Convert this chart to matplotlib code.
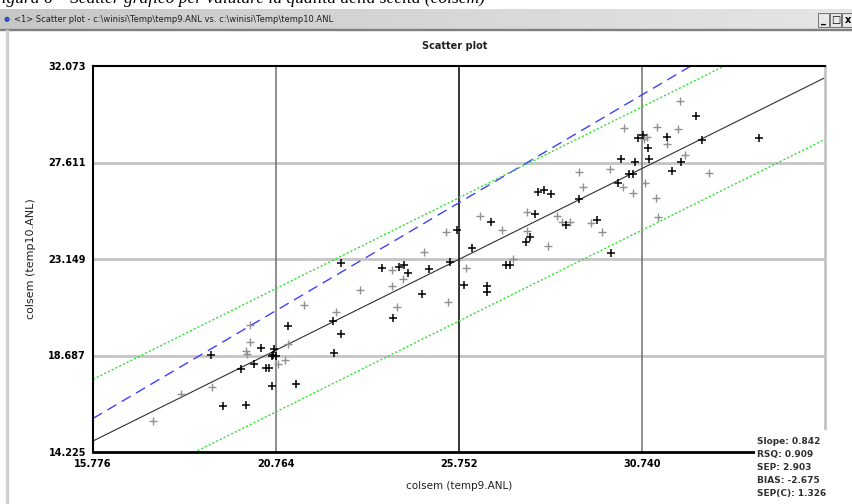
import numpy as np
import matplotlib
matplotlib.use('Agg')
import matplotlib.pyplot as plt
from matplotlib.patches import Rectangle

# samples drawn in black
x_black = [19.32, 19.95, 18.99, 20.36, 19.81, 20.16, 20.49, 20.57, 20.66, 20.71,
           20.68, 20.66, 20.76, 21.09, 21.31, 22.35, 22.54, 22.32, 22.54, 23.65,
           24.12, 24.25, 24.36, 23.95, 24.74, 24.93, 25.51, 25.70, 25.89, 26.11,
           26.52, 26.52, 27.03, 27.14, 26.62, 27.82, 27.69, 27.58, 27.91, 28.07,
           28.26, 28.67, 29.02, 29.51, 29.90, 30.09, 30.39, 30.50, 30.17, 30.55,
           30.93, 30.90, 30.77, 30.63, 31.42, 32.21, 32.38, 33.93, 31.80, 31.56]
y_black = [16.35, 16.40, 18.71, 19.03, 18.06, 18.29, 18.11, 18.11, 17.28, 18.99,
           18.71, 18.66, 18.66, 20.05, 17.37, 18.80, 19.68, 20.28, 22.96, 22.73,
           22.78, 22.87, 22.50, 20.42, 21.53, 22.69, 23.01, 24.49, 21.95, 23.66,
           21.90, 21.62, 22.87, 22.87, 24.86, 25.23, 24.17, 23.94, 26.25, 26.34,
           26.16, 24.72, 25.92, 24.95, 23.43, 26.66, 27.08, 27.08, 27.77, 27.63,
           27.77, 28.28, 28.88, 28.74, 28.79, 29.76, 28.65, 28.74, 27.63, 27.22]

# samples drawn in grey
x_grey = [17.41, 18.18, 19.02, 20.06, 20.06, 19.95, 19.97, 20.82, 21.01, 21.09,
          21.53, 22.40, 23.05, 23.93, 24.23, 23.93, 24.06, 24.80, 25.40, 25.45,
          25.94, 26.32, 27.22, 26.92, 27.61, 27.61, 28.18, 28.42, 28.56, 28.78,
          29.02, 29.13, 29.35, 29.65, 29.87, 30.22, 30.50, 30.82, 31.12, 31.18,
          30.88, 30.80, 30.25, 31.15, 31.72, 31.42, 31.78, 31.91, 32.57]
y_grey = [15.66, 16.91, 17.23, 20.10, 19.31, 18.90, 18.76, 18.29, 18.48, 19.22,
          21.02, 20.70, 21.72, 22.64, 22.22, 21.90, 20.93, 23.47, 24.40, 21.16,
          22.73, 25.14, 23.15, 24.49, 25.32, 24.44, 23.75, 25.14, 24.86, 24.86,
          27.17, 26.48, 24.81, 24.40, 27.31, 26.48, 26.20, 26.66, 25.97, 25.09,
          28.79, 28.70, 29.21, 29.25, 29.16, 28.47, 30.46, 27.96, 27.13]

x_ticks = [15.776, 20.764, 25.752, 30.740, 35.728]
y_ticks = [14.225, 18.687, 23.149, 27.611, 32.073]

slope = 0.842
intercept = 1.45
band = 2.85
stats = ['Slope: 0.842', 'RSQ: 0.909', 'SEP: 2.903', 'BIAS: -2.675', 'SEP(C): 1.326']

W, H = 853, 504
fig = plt.figure(figsize=(W / 100, H / 100), dpi=100)
fig.patch.set_facecolor('white')


def fx(px):
    return px / W


def fy(py):
    return 1 - py / H


# caption of the page, cut by the screenshot's top edge
fig.text(fx(-9), fy(3), 'Figura 6 – Scatter grafico per valutare la qualità della scelta (colsem)',
         family='Liberation Serif', style='italic', fontsize=12.5, va='baseline', ha='left')

# window title bar
grad = np.linspace(0, 1, 256).reshape(1, -1)
bar = fig.add_axes([0, fy(30), 1, 21 / H])
bar.imshow(np.dstack([0.78 + 0.12 * grad] * 3), aspect='auto', extent=[0, 1, 0, 1])
bar.set_axis_off()
fig.patches.append(Rectangle((0, fy(30)), 1, 1 / H, transform=fig.transFigure,
                             color='#808080', zorder=5))
fig.text(fx(4), fy(19.5), '\u25CF', color='#3050c0', fontsize=5, va='center')
fig.text(fx(14), fy(19.5), '<1> Scatter plot - c:\\winisi\\Temp\\temp9.ANL vs. c:\\winisi\\Temp\\temp10.ANL',
         family=['Liberation Sans Narrow', 'DejaVu Sans'], fontsize=6, va='center', color='#202020')
for i, sym in enumerate(['_', '□', 'x']):
    x0 = 818 + i * 12
    fig.patches.append(Rectangle((fx(x0), fy(27)), 11 / W, 14 / H, transform=fig.transFigure,
                                 facecolor='#e8e8e8', edgecolor='#606060', lw=0.6, zorder=6))
    fig.text(fx(x0 + 5.5), fy(20), sym, fontsize=7, ha='center', va='center', zorder=7,
             fontweight='bold')

# window left frame
fig.patches.append(Rectangle((fx(6), 0), 2.5 / W, fy(30), transform=fig.transFigure,
                             color='#d0d0d0', zorder=5))

fig.text(fx(455), fy(46), 'Scatter plot', fontsize=7, ha='center', va='center',
         family='DejaVu Sans', fontweight='bold', color='#202020')

ax = fig.add_axes([fx(93), fy(452), 732 / W, 386 / H])
ax.set_xlim(x_ticks[0], x_ticks[-1])
ax.set_ylim(y_ticks[0], y_ticks[-1])

for yt in y_ticks[1:-1]:
    ax.axhline(yt, color='#c4c4c4', lw=2, zorder=1)
for xt, c in zip(x_ticks[1:-1], ['#707070', 'black', '#707070']):
    ax.axvline(xt, color=c, lw=1.1, zorder=1)

xs = np.array([x_ticks[0], x_ticks[-1]])
ax.plot(xs, xs, color='#4040ff', lw=1, dashes=(7.5, 4.5), zorder=2)
ax.plot(xs, slope * xs + intercept + band, color='#30e030', lw=1, dashes=(1.5, 1.5), zorder=2)
ax.plot(xs, slope * xs + intercept - band, color='#30e030', lw=1, dashes=(1.5, 1.5), zorder=2)
ax.plot(xs, slope * xs + intercept, color='#303030', lw=0.8, zorder=2)

ax.plot(x_grey, y_grey, '+', color='#909090', ms=5.5, mew=1, zorder=3)
ax.plot(x_black, y_black, '+', color='black', ms=5.5, mew=1.1, zorder=3)

ax.set_xticks(x_ticks)
ax.set_xticklabels(['%.3f' % v for v in x_ticks[:-1]] + [''])
ax.set_yticks(y_ticks)
ax.set_yticklabels(['%.3f' % v for v in y_ticks])
ax.tick_params(length=0, labelsize=7, pad=5)
for lab in ax.get_xticklabels() + ax.get_yticklabels():
    lab.set_fontweight('bold')
ax.spines['left'].set_linewidth(1.5)
ax.spines['top'].set_linewidth(1.5)
ax.spines['bottom'].set_linewidth(2)
ax.spines['right'].set_color('#c4c4c4')
ax.spines['right'].set_linewidth(2)

ax.set_xlabel('colsem (temp9.ANL)', fontsize=7.5, labelpad=9, color='#202020')
ax.set_ylabel('colsem (temp10.ANL)', fontsize=8, labelpad=9, color='#202020')

# statistics box in the corner
fig.patches.append(Rectangle((fx(755), 0), 98 / W, fy(430), transform=fig.transFigure,
                             facecolor='white', edgecolor='none', zorder=10))
for i, s in enumerate(stats):
    fig.text(fx(757), fy(441 + i * 13.2), s, fontsize=6.5, fontweight='bold', va='center',
             color='#303030', zorder=11)

fig.savefig('out.png', dpi=100)
